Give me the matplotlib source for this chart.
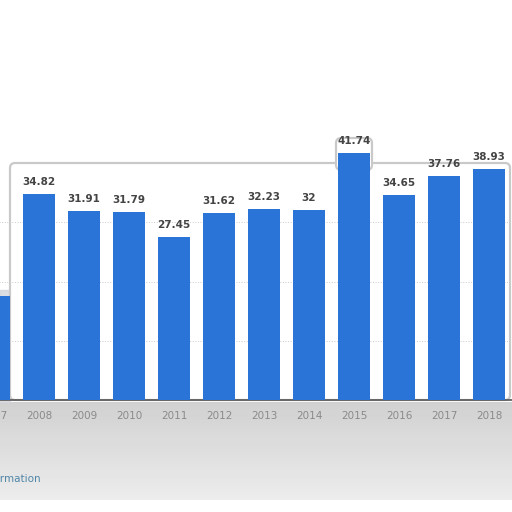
import numpy as np
from matplotlib import pyplot as plt
from matplotlib.patches import FancyBboxPatch, Rectangle

# yearly values, 2007 bar is cut off at the left edge
years = [2007, 2008, 2009, 2010, 2011, 2012, 2013, 2014, 2015, 2016, 2017, 2018]
values = [17.5, 34.82, 31.91, 31.79, 27.45, 31.62, 32.23, 32.0, 41.74, 34.65, 37.76, 38.93]
labels = ['', '34.82', '31.91', '31.79', '27.45', '31.62', '32.23', '32', '41.74', '34.65', '37.76', '38.93']

W = 512.
H = 512.
fig = plt.figure(figsize=(5.12, 5.12), dpi=100)
fig.patch.set_facecolor('white')

def fx(px):
    return px / W

def fy(py):
    return 1 - py / H

# grey smudge under the chart
bg = fig.add_axes([0, 0, 1, 1], zorder=0)
bg.set_axis_off()
grad = np.ones((64, 64))
rows = np.linspace(0, 1, 64)
for i, r in enumerate(rows):
    grad[i, :] = 0.80 + 0.12 * r
bg.imshow(grad, cmap='gray', vmin=0, vmax=1, extent=[0, 1, fy(500), fy(402)],
          aspect='auto', alpha=0.9)
bg.add_patch(Rectangle((fx(0), fy(402)), fx(10), fy(290) - fy(402),
                       color='#d3d6dc', alpha=0.8))
bg.set_xlim(0, 1)
bg.set_ylim(0, 1)

# rounded frame of the plot area, with bump for 2015
frame = FancyBboxPatch((fx(10), fy(400)), fx(500), fy(163) - fy(400),
                       boxstyle='round,pad=0,rounding_size=0.01',
                       facecolor='white', edgecolor='#c9c9c9', lw=1.6,
                       transform=fig.transFigure, zorder=1)
fig.patches.append(frame)
bump = FancyBboxPatch((fx(336), fy(170)), fx(36), fy(138) - fy(170),
                      boxstyle='round,pad=0,rounding_size=0.01',
                      facecolor='white', edgecolor='#c9c9c9', lw=1.6,
                      transform=fig.transFigure, zorder=1)
fig.patches.append(bump)
fig.patches.append(Rectangle((fx(337), fy(166)), fx(34), fy(160) - fy(166),
                             facecolor='white', edgecolor='none',
                             transform=fig.transFigure, zorder=1))

left_px = -30.
right_px = 512.
ax = fig.add_axes([fx(left_px), fy(400), (right_px - left_px) / W, fy(163) - fy(400)], zorder=2)
ax.set_facecolor('none')
ax.set_xlim(2008 - (39 - left_px) / 45., 2008 + (right_px - 39) / 45.)
ax.set_ylim(0, 40)

ax.bar(years, values, width=0.69, color='#2a74d8', zorder=3, clip_on=False)
for x, v, s in zip(years, values, labels):
    ax.annotate(s, (x, v), xytext=(0, 5), textcoords='offset points',
                ha='center', va='bottom', fontsize=7.5, fontweight='bold',
                color='#444444', annotation_clip=False, zorder=4)

for g in [10, 20, 30]:
    ax.axhline(g, color='#cccccc', lw=0.7, ls=':', zorder=1)

for s in ['top', 'right', 'left']:
    ax.spines[s].set_visible(False)
ax.spines['bottom'].set_color('#555555')
ax.spines['bottom'].set_linewidth(1.2)
ax.set_yticks([])
ax.set_xticks(years)
ax.set_xticklabels([str(y) for y in years])
ax.tick_params(axis='x', length=0, pad=8, labelsize=7.5, labelcolor='#8a8a8a')

fig.text(fx(41), fy(479), 'Additional Information', ha='right', va='center',
         fontsize=7.5, color='#4f86a8', zorder=5)

plt.savefig('out.png', dpi=100)
